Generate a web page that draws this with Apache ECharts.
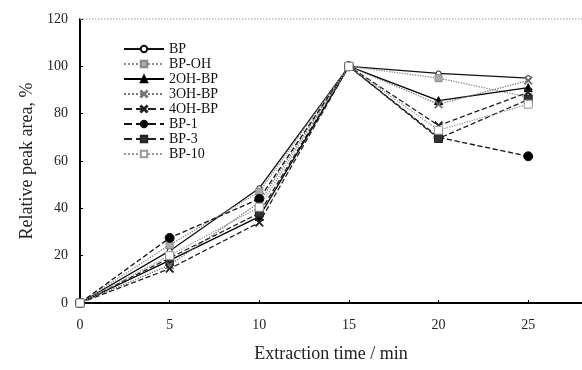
<!DOCTYPE html>
<html><head><meta charset="utf-8">
<script src="https://cdn.jsdelivr.net/npm/echarts@6/dist/echarts.min.js"></script>
<style>html,body{margin:0;padding:0;background:#fff}#c{width:582px;height:370px}</style>
</head><body><div id="c"></div>
<script>
const times = [0, 5, 10, 15, 20, 25];
const seriesNames = ['BP', 'BP-OH', '2OH-BP', '3OH-BP', '4OH-BP', 'BP-1', 'BP-3', 'BP-10'];
const BP      = [0, 22, 48.5, 100, 97, 95];
const BP_OH   = [0, 24.5, 47, 100, 95, 87];
const OH2_BP  = [0, 18, 36.5, 100, 85.5, 91];
const OH3_BP  = [0, 16, 42.5, 100, 84, 94];
const OH4_BP  = [0, 14.5, 34, 100, 75, 89];
const BP_1    = [0, 27.5, 44, 100, 70, 62];
const BP_3    = [0, 19, 38, 100, 69.5, 86];
const BP_10   = [0, 20, 40.5, 100, 73, 84];
const values = [BP, BP_OH, OH2_BP, OH3_BP, OH4_BP, BP_1, BP_3, BP_10];

const xPath = 'path://M0,1L1,0L5,4L9,0L10,1L6,5L10,9L9,10L5,6L1,10L0,9L4,5Z';
const styles = [
  {color:'#111', type:'solid', symbol:'circle', size:5, fill:'#fff'},
  {color:'#888', type:'dotted', symbol:'rect', size:7, fill:'#aaa'},
  {color:'#000', type:'solid', symbol:'triangle', size:8, fill:'#000'},
  {color:'#777', type:'dotted', symbol:xPath, size:8, fill:'#555'},
  {color:'#222', type:'dashed', symbol:xPath, size:8, fill:'#222'},
  {color:'#111', type:'dashed', symbol:'circle', size:9, fill:'#000'},
  {color:'#222', type:'dashed', symbol:'rect', size:8, fill:'#333'},
  {color:'#999', type:'dotted', symbol:'rect', size:8, fill:'#fff'}
];

const serif = '"Liberation Serif","DejaVu Serif",serif';
const chart = echarts.init(document.getElementById('c'));
chart.setOption({
  animation: false,
  backgroundColor: '#fff',
  grid: {left: 80, right: 0, top: 19, bottom: 67, show: false},
  legend: {
    orient: 'vertical', left: 118, top: 37, itemWidth: 40, itemHeight: 8, itemGap: 1,
    textStyle: {fontFamily: serif, fontSize: 14, lineHeight: 13, color: '#111'},
    data: seriesNames
  },
  xAxis: {
    type: 'value', min: 0, max: 28, interval: 5,
    name: 'Extraction time / min', nameLocation: 'middle', nameGap: 42,
    nameTextStyle: {fontFamily: serif, fontSize: 18, color: '#222'},
    axisLine: {onZero: false, lineStyle: {color: '#000', width: 2}},
    axisTick: {inside: true, length: 3, lineStyle: {color: '#000'}},
    axisLabel: {fontFamily: serif, fontSize: 14, color: '#222', margin: 15, showMaxLabel: false},
    splitLine: {show: false}
  },
  yAxis: {
    type: 'value', min: 0, max: 120, interval: 20,
    name: 'Relative peak area, %', nameLocation: 'middle', nameGap: 44,
    nameTextStyle: {fontFamily: serif, fontSize: 18, color: '#222'},
    axisLine: {show: true, lineStyle: {color: '#000', width: 2}},
    axisTick: {show: true, inside: true, length: 3, lineStyle: {color: '#000'}},
    axisLabel: {fontFamily: serif, fontSize: 14, color: '#222', margin: 12},
    splitLine: {show: false}
  },
  series: seriesNames.map((n, i) => ({
    name: n, type: 'line',
    data: times.map((t, j) => [t, values[i][j]]),
    symbol: styles[i].symbol, symbolSize: styles[i].size,
    showAllSymbol: true,
    lineStyle: {color: styles[i].color, type: styles[i].type, width: 1.3},
    itemStyle: {color: styles[i].fill, borderColor: styles[i].color, borderWidth: 1},
    markLine: i === 0 ? {
      silent: true, symbol: 'none', label: {show: false},
      lineStyle: {color: '#bbb', type: 'dotted', width: 1.5},
      data: [{yAxis: 120}]
    } : undefined
  }))
});
</script></body></html>
